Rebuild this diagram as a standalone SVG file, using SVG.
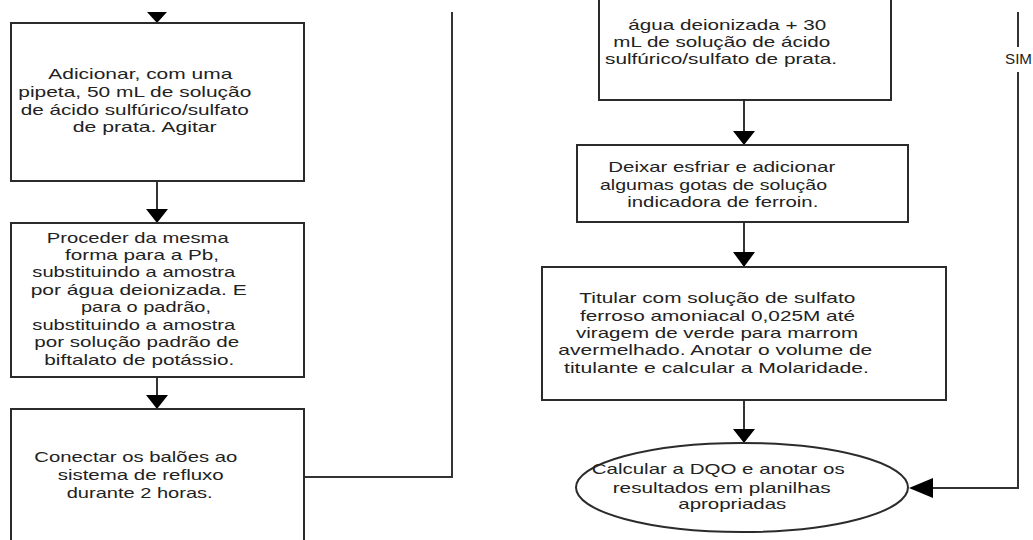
<svg xmlns="http://www.w3.org/2000/svg" width="1033" height="540" viewBox="0 0 1033 540">
<style>
.box{fill:#fff;stroke:#2b2b2b;stroke-width:2}
.ln{fill:none;stroke:#333;stroke-width:2}
.ah{fill:#000}
text{font-family:"Liberation Sans",Arial,sans-serif;font-size:15px;fill:#222}
</style>
<rect width="1033" height="540" fill="#fff"/>
<g id="connectors">
<polygon class="ah" points="147,12 167,12 157,23"/>
<line class="ln" x1="157" y1="181" x2="157" y2="210"/>
<polygon class="ah" points="146,209 168,209 157,223"/>
<line class="ln" x1="157" y1="377" x2="157" y2="396"/>
<polygon class="ah" points="146,395 168,395 157,409"/>
<polyline class="ln" points="304,477 452,477 452,12"/>
<line class="ln" x1="744" y1="100" x2="744" y2="132"/>
<polygon class="ah" points="733,131 755,131 744,145"/>
<line class="ln" x1="744" y1="222" x2="744" y2="253"/>
<polygon class="ah" points="733,252 755,252 744,267"/>
<line class="ln" x1="744" y1="400" x2="744" y2="430"/>
<polygon class="ah" points="733,429 755,429 744,443"/>
<line class="ln" x1="1018" y1="12" x2="1018" y2="47"/>
<polyline class="ln" points="1018,72 1018,488 932,488"/>
<polygon class="ah" points="933,478 933,498 909,488"/>
<text x="1005" y="64" textLength="27" lengthAdjust="spacingAndGlyphs">SIM</text>
</g>
<g id="n1">
<rect class="box" x="11" y="23" width="293" height="158"/>
<text x="48.3" y="79" textLength="184" lengthAdjust="spacingAndGlyphs">Adicionar, com uma</text>
<text x="18.3" y="97" textLength="233" lengthAdjust="spacingAndGlyphs">pipeta, 50 mL de solução</text>
<text x="20.7" y="114.5" textLength="228" lengthAdjust="spacingAndGlyphs">de ácido sulfúrico/sulfato</text>
<text x="72.7" y="132" textLength="144" lengthAdjust="spacingAndGlyphs">de prata. Agitar</text>
</g>
<g id="n2">
<rect class="box" x="11" y="223" width="293" height="154"/>
<text x="46.7" y="242.5" textLength="182" lengthAdjust="spacingAndGlyphs">Proceder da mesma</text>
<text x="65" y="259.5" textLength="154" lengthAdjust="spacingAndGlyphs">forma para a Pb,</text>
<text x="32.3" y="277" textLength="203" lengthAdjust="spacingAndGlyphs">substituindo a amostra</text>
<text x="30.7" y="294.5" textLength="216" lengthAdjust="spacingAndGlyphs">por água deionizada. E</text>
<text x="81" y="312" textLength="130" lengthAdjust="spacingAndGlyphs">para o padrão,</text>
<text x="32.3" y="329.5" textLength="203" lengthAdjust="spacingAndGlyphs">substituindo a amostra</text>
<text x="34.3" y="347" textLength="205" lengthAdjust="spacingAndGlyphs">por solução padrão de</text>
<text x="44.3" y="364.5" textLength="190" lengthAdjust="spacingAndGlyphs">biftalato de potássio.</text>
</g>
<g id="n3">
<rect class="box" x="11" y="409" width="293" height="150"/>
<text x="34.3" y="462" textLength="203" lengthAdjust="spacingAndGlyphs">Conectar os balões ao</text>
<text x="57.7" y="480" textLength="166" lengthAdjust="spacingAndGlyphs">sistema de refluxo</text>
<text x="66.7" y="498" textLength="146" lengthAdjust="spacingAndGlyphs">durante 2 horas.</text>
</g>
<g id="n4">
<rect class="box" x="599" y="-10" width="292" height="110"/>
<text x="628.3" y="29.5" textLength="198" lengthAdjust="spacingAndGlyphs">água deionizada + 30</text>
<text x="613.3" y="46.5" textLength="217" lengthAdjust="spacingAndGlyphs">mL de solução de ácido</text>
<text x="605" y="64" textLength="232" lengthAdjust="spacingAndGlyphs">sulfúrico/sulfato de prata.</text>
</g>
<g id="n5">
<rect class="box" x="577" y="145" width="331" height="77"/>
<text x="608.3" y="172.3" textLength="227" lengthAdjust="spacingAndGlyphs">Deixar esfriar e adicionar</text>
<text x="600" y="190" textLength="227" lengthAdjust="spacingAndGlyphs">algumas gotas de solução</text>
<text x="627.3" y="207.3" textLength="191" lengthAdjust="spacingAndGlyphs">indicadora de ferroin.</text>
</g>
<g id="n6">
<rect class="box" x="542" y="267" width="404" height="133"/>
<text x="579.3" y="303.3" textLength="276" lengthAdjust="spacingAndGlyphs">Titular com solução de sulfato</text>
<text x="580" y="320.5" textLength="275" lengthAdjust="spacingAndGlyphs">ferroso amoniacal 0,025M até</text>
<text x="576" y="337.5" textLength="282" lengthAdjust="spacingAndGlyphs">viragem de verde para marrom</text>
<text x="558.3" y="355" textLength="314" lengthAdjust="spacingAndGlyphs">avermelhado. Anotar o volume de</text>
<text x="564" y="372.7" textLength="305" lengthAdjust="spacingAndGlyphs">titulante e calcular a Molaridade.</text>
</g>
<g id="n7">
<ellipse class="box" cx="742" cy="487.5" rx="166" ry="44.5"/>
<text x="591.7" y="474" textLength="253" lengthAdjust="spacingAndGlyphs">Calcular a DQO e anotar os</text>
<text x="612.7" y="492.7" textLength="218" lengthAdjust="spacingAndGlyphs">resultados em planilhas</text>
<text x="678.3" y="509.3" textLength="108" lengthAdjust="spacingAndGlyphs">apropriadas</text>
</g>
</svg>
